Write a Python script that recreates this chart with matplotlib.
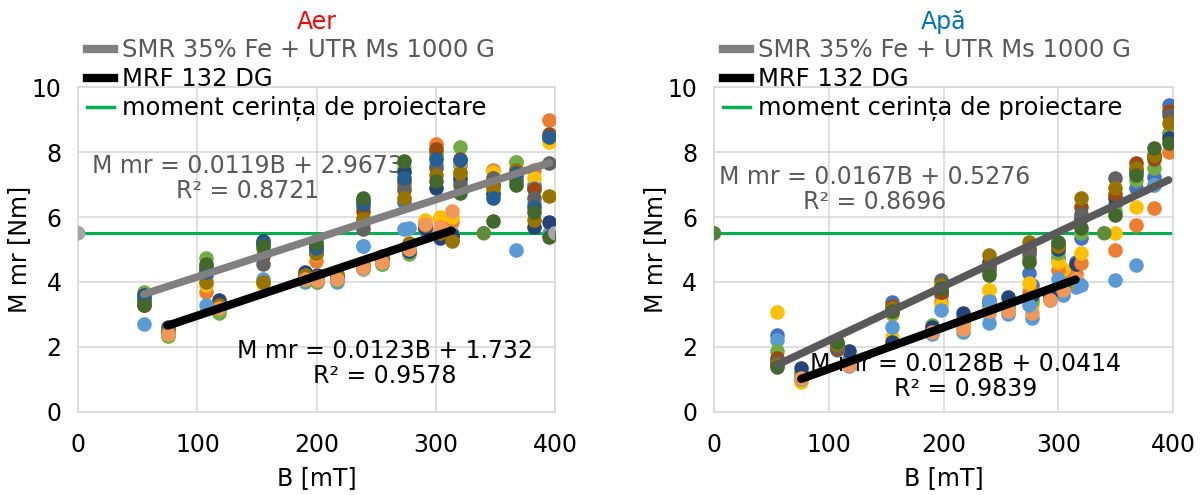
import numpy as np
import matplotlib.pyplot as plt

# Excel-like series palette
PAL = ['#4472C4', '#ED7D31', '#A5A5A5', '#FFC000', '#5B9BD5', '#70AD47',
       '#264478', '#9E480E', '#636363', '#997300', '#255E91', '#43682B',
       '#698ED0', '#F1975A']

# ---- Aer ----
aer_smr_b = [55, 107, 155, 199, 239, 273, 300, 320, 348, 367, 382, 395]
aer_smr_colors = [0, 1, 3, 4, 5, 6, 7, 8, 9, 10, 11]
aer_smr_m = [
    [3.45, 4.20, 5.20, 5.00, 5.90, 6.45, 7.90, 7.60, 7.00, 7.30, 7.00, 8.40],
    [3.30, 3.70, 4.00, 4.65, 5.80, 7.00, 8.25, 7.40, 7.45, 7.70, 7.45, 9.00],
    [3.40, 3.90, 3.95, 4.85, 6.00, 6.80, 7.85, 7.70, 7.40, 7.50, 7.20, 8.30],
    [2.70, 3.28, 4.10, 4.90, 5.12, 5.64, 7.60, 7.10, 6.70, 4.97, 6.90, 5.50],
    [3.70, 4.75, 5.00, 5.25, 6.30, 7.50, 8.00, 8.15, 7.20, 7.70, 6.40, 8.50],
    [3.60, 4.45, 5.27, 5.10, 6.50, 7.40, 6.90, 7.20, 6.75, 7.40, 5.68, 5.85],
    [3.30, 4.30, 4.80, 4.90, 6.20, 7.10, 8.10, 7.80, 7.00, 7.20, 6.85, 8.55],
    [3.35, 4.40, 4.55, 5.00, 5.64, 6.85, 7.50, 7.00, 7.20, 7.10, 6.60, 7.65],
    [3.40, 4.00, 4.00, 4.90, 5.95, 6.60, 7.30, 7.35, 6.90, 7.45, 5.90, 6.66],
    [3.50, 4.30, 5.20, 5.05, 6.40, 7.20, 7.80, 7.75, 6.60, 7.35, 6.30, 8.45],
    [3.30, 4.55, 5.10, 5.20, 6.60, 7.73, 7.10, 6.75, 5.89, 7.00, 6.15, 5.38],
]
aer_mrf_b = [75, 118, 190, 200, 217, 239, 255, 277, 291, 303, 313]
aer_mrf_colors = [0, 1, 2, 3, 4, 5, 6, 9, 13]
aer_mrf_m = [
    [2.50, 3.20, 4.20, 4.15, 4.10, 4.45, 4.60, 4.90, 5.70, 5.50, 5.40],
    [2.45, 3.25, 4.10, 4.00, 4.05, 4.40, 4.75, 5.00, 5.80, 5.95, 5.85],
    [2.40, 3.15, 4.05, 4.10, 4.20, 4.40, 4.70, 5.05, 5.85, 5.60, 5.50],
    [2.35, 3.20, 4.15, 4.10, 4.05, 4.50, 4.65, 5.10, 5.90, 6.00, 6.00],
    [2.45, 3.10, 4.00, 4.05, 4.00, 5.12, 4.55, 5.67, 5.60, 5.40, 5.30],
    [2.35, 3.05, 4.05, 4.00, 4.05, 4.45, 4.55, 4.85, 5.70, 5.45, 5.35],
    [2.60, 3.45, 4.30, 4.20, 4.15, 4.50, 4.70, 4.95, 5.65, 5.35, 5.45],
    [2.50, 3.30, 4.20, 4.15, 4.25, 4.55, 4.80, 5.20, 5.75, 5.50, 5.25],
    [2.40, 3.20, 4.10, 4.05, 4.10, 4.45, 4.60, 5.00, 5.80, 5.70, 6.20],
]

# ---- Apa ----
apa_smr_b = [55, 107, 155, 198, 240, 274, 300, 320, 349, 368, 383, 396]
apa_smr_colors = [0, 1, 3, 4, 5, 6, 7, 8, 9, 11]
apa_smr_m = [
    [2.37, 2.00, 3.39, 3.60, 4.45, 4.27, 4.75, 5.35, 6.40, 6.90, 7.24, 9.45],
    [1.60, 1.95, 3.00, 3.39, 3.45, 3.70, 4.37, 4.57, 4.98, 5.75, 6.27, 8.00],
    [3.09, 1.95, 2.30, 3.30, 3.75, 3.97, 4.60, 4.88, 5.50, 6.32, 7.00, 8.50],
    [2.20, 1.90, 2.62, 3.15, 3.40, 3.30, 4.10, 3.90, 4.06, 4.52, 7.00, 8.60],
    [1.86, 2.05, 3.05, 3.80, 4.30, 4.70, 4.88, 5.50, 6.20, 7.14, 7.50, 8.60],
    [1.50, 2.10, 2.16, 3.70, 4.60, 5.00, 5.00, 5.97, 6.57, 7.45, 7.85, 8.42],
    [1.65, 1.95, 3.25, 3.70, 4.50, 4.95, 5.10, 6.30, 6.70, 7.65, 7.80, 9.25],
    [1.55, 2.00, 3.10, 4.06, 4.40, 4.85, 5.20, 6.10, 7.19, 7.40, 7.90, 9.14],
    [1.45, 2.10, 3.20, 3.90, 4.83, 5.24, 5.10, 6.57, 6.88, 7.50, 7.90, 8.88],
    [1.39, 2.16, 3.10, 3.80, 4.20, 4.60, 5.24, 5.65, 6.06, 7.30, 8.11, 8.27],
]
apa_mrf_b = [76, 118, 190, 217, 240, 256, 277, 293, 304, 315]
apa_mrf_colors = [0, 1, 2, 3, 4, 5, 6, 13]
apa_mrf_m = [
    [1.20, 1.60, 2.55, 2.80, 3.30, 3.30, 3.90, 3.55, 4.30, 4.60],
    [1.10, 1.55, 2.50, 2.75, 3.45, 3.20, 3.70, 3.50, 4.15, 4.25],
    [1.05, 1.50, 2.45, 2.60, 3.00, 3.10, 3.50, 3.55, 3.70, 3.95],
    [0.93, 1.45, 2.47, 2.65, 3.75, 3.05, 3.30, 3.50, 4.40, 4.10],
    [1.00, 1.40, 2.40, 2.47, 2.75, 3.00, 2.90, 3.45, 3.60, 3.85],
    [1.15, 1.50, 2.68, 2.90, 3.20, 3.25, 3.40, 3.50, 3.80, 4.00],
    [1.35, 1.86, 2.60, 3.04, 3.40, 3.55, 3.60, 3.60, 3.90, 4.55],
    [1.05, 1.45, 2.45, 2.55, 3.10, 3.10, 3.05, 3.45, 3.75, 4.10],
]

# trend line coefficients (slope, intercept, R^2)
aer_smr_fit = (0.0119, 2.9673, 0.8721)
aer_mrf_fit = (0.0123, 1.732, 0.9578)
apa_smr_fit = (0.0167, 0.5276, 0.8696)
apa_mrf_fit = (0.0128, 0.0414, 0.9839)

# design requirement moment
req_b = [0, 340, 400]
req_m = [5.5, 5.5, 5.5]

legend_labels = ['SMR 35% Fe + UTR Ms 1000 G', 'MRF 132 DG',
                 'moment cerința de proiectare']

FS = 17
plt.rcParams['font.family'] = 'DejaVu Sans'

fig = plt.figure(figsize=(12.02, 4.95), dpi=100)
ax1 = fig.add_axes([0.065, 0.168, 0.397, 0.656])
ax2 = fig.add_axes([0.594, 0.168, 0.382, 0.656])


def draw(ax, title, tcolor, smr_b, smr_m, smr_c, mrf_b, mrf_m, mrf_c,
         smr_fit, mrf_fit, smr_line, req_colors, smr_txt, mrf_txt):
    ax.plot(req_b, req_m, color='#00B050', lw=2.2, zorder=2)
    for i, row in enumerate(mrf_m):
        ax.scatter(mrf_b, row, s=110, color=PAL[mrf_c[i]], lw=0, zorder=3)
    for i, row in enumerate(smr_m):
        ax.scatter(smr_b, row, s=110, color=PAL[smr_c[i]], lw=0, zorder=3)
    ax.scatter(req_b, req_m, s=110, color=req_colors, lw=0, zorder=3)

    xs = np.array([min(smr_b), max(smr_b)])
    ax.plot(xs, smr_fit[0] * xs + smr_fit[1], color=smr_line, lw=5.5,
            solid_capstyle='round', zorder=4)
    xm = np.array([min(mrf_b), max(mrf_b)])
    ax.plot(xm, mrf_fit[0] * xm + mrf_fit[1], color='black', lw=6,
            solid_capstyle='round', zorder=4)

    ax.text(smr_txt[0], smr_txt[1],
            'M mr = %gB + %g\nR² = %g' % smr_fit,
            ha='center', va='center', color='#595959', fontsize=FS,
            linespacing=1.05, zorder=1)
    ax.text(mrf_txt[0], mrf_txt[1],
            'M mr = %gB + %g\nR² = %g' % mrf_fit,
            ha='center', va='center', color='black', fontsize=FS,
            linespacing=1.05, zorder=1)

    ax.set_xlim(0, 400)
    ax.set_ylim(0, 10)
    ax.set_xticks(range(0, 401, 100))
    ax.set_yticks(range(0, 11, 2))
    ax.grid(color='#D9D9D9', lw=1.2)
    ax.set_axisbelow(True)
    for s in ax.spines.values():
        s.set_color('#D9D9D9')
        s.set_linewidth(1.2)
    ax.tick_params(length=0, labelsize=FS)
    ax.tick_params(axis='x', pad=15)
    ax.tick_params(axis='y', pad=12)
    ax.set_xlabel('B [mT]', fontsize=FS, labelpad=7)
    ax.set_ylabel('M mr [Nm]', fontsize=FS, labelpad=0)
    ax.set_title(title, color=tcolor, fontsize=FS, pad=42)

    handles = [plt.Line2D([], [], color='#808080', lw=6),
               plt.Line2D([], [], color='black', lw=6),
               plt.Line2D([], [], color='#00B050', lw=2.5)]
    leg = ax.legend(handles, legend_labels, loc='upper left',
                    bbox_to_anchor=(-0.002, 1.18), frameon=False,
                    fontsize=FS + 0.5, handlelength=1.1, handletextpad=0.35,
                    labelspacing=0.2, borderaxespad=0)
    leg.get_texts()[0].set_color('#595959')
    leg.set_zorder(5)


draw(ax1, 'Aer', '#FF0000', aer_smr_b, aer_smr_m, aer_smr_colors,
     aer_mrf_b, aer_mrf_m, aer_mrf_colors, aer_smr_fit, aer_mrf_fit,
     '#808080', ['#A5A5A5', '#5E8C3A', '#A5A5A5'], (142, 7.2), (257, 1.5))
draw(ax2, 'Apă', '#0070C0', apa_smr_b, apa_smr_m, apa_smr_colors,
     apa_mrf_b, apa_mrf_m, apa_mrf_colors, apa_smr_fit, apa_mrf_fit,
     '#595959', ['#548235', '#5E8C3A', 'none'], (140, 6.85), (219, 1.1))

fig.savefig('out.png', dpi=100)
